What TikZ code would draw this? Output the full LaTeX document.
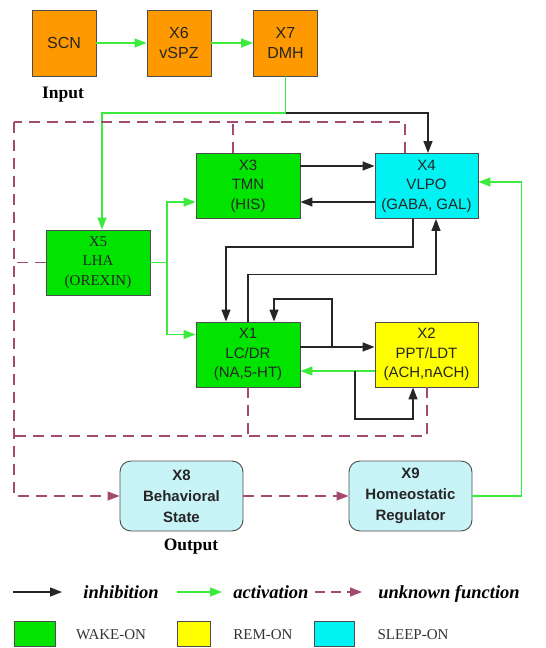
\documentclass[tikz,border=0pt]{standalone}
\usepackage{fontspec}
\setmainfont{Liberation Serif}
\setsansfont{Liberation Sans}
\usetikzlibrary{arrows.meta}

\definecolor{inorange}{HTML}{FF9900}
\definecolor{wakegreen}{HTML}{00E400}
\definecolor{sleepcyan}{HTML}{00F2F2}
\definecolor{remyellow}{HTML}{FFFF00}
\definecolor{statecyan}{HTML}{C8F4F7}
\definecolor{actgreen}{HTML}{3CEB3C}
\definecolor{unkpink}{HTML}{A24A72}

\tikzset{
  box/.style={draw=black!70, line width=0.9pt, minimum width=104pt, minimum height=65pt,
    align=center, inner sep=1pt, text=black!85, font=\sffamily\fontsize{15}{19.5}\selectfont},
  inbox/.style={box, fill=inorange, minimum width=64pt, minimum height=66pt,
    font=\sffamily\fontsize{16}{20}\selectfont},
  wake/.style={box, fill=wakegreen},
  sleep/.style={box, fill=sleepcyan, minimum width=103pt},
  rem/.style={box, fill=remyellow, minimum width=103pt},
  state/.style={box, fill=statecyan, rounded corners=11pt, minimum width=123pt, minimum height=70pt,
    font=\sffamily\bfseries\fontsize{15}{21}\selectfont},
  inh/.style={draw=black!85, line width=1.4pt},
  act/.style={draw=actgreen, line width=1.4pt},
  unk/.style={draw=unkpink, line width=1.3pt, dash pattern=on 11pt off 7pt},
  tag/.style={font=\bfseries\fontsize{17.5}{20}\selectfont},
  key/.style={anchor=base, font=\bfseries\itshape\fontsize{18.5}{20}\selectfont},
  swatch/.style={draw=black!70, line width=0.9pt, minimum width=41pt, minimum height=25pt, inner sep=0pt},
  keytext/.style={anchor=base, font=\fontsize{15}{18}\selectfont, text=black!80},
  >={Triangle[length=12pt,width=9pt]}
}

\begin{document}
\begin{tikzpicture}[x=1pt, y=-1pt]
\useasboundingbox (0,0) rectangle (546,648);

\node[inbox] (SCN) at (64,43) {SCN};
\node[inbox] (X6) at (179,43) {X6\\vSPZ};
\node[inbox] (X7) at (285.5,43) {X7\\DMH};
\node[tag] (in) at (63,95) {Input};

\node[wake] (X3) at (248,186) {X3\\TMN\\(HIS)};
\node[sleep] (X4) at (426.5,186) {X4\\VLPO\\(GABA, GAL)};
\node[wake, font=\fontsize{15}{19.5}\selectfont] (X5) at (98,262.5) {X5\\LHA\\(OREXIN)};
\node[wake] (X1) at (248,354.5) {X1\\LC/DR\\(NA,5-HT)};
\node[rem] (X2) at (426.5,354.5) {X2\\PPT/LDT\\(ACH,nACH)};

\node[state] (X8) at (181.5,496) {X8\\Behavioral\\State};
\node[state] (X9) at (410.5,496) {X9\\Homeostatic\\Regulator};
\node[tag] (out) at (191,547) {Output};

\coordinate (j1) at (285.5,113);
\coordinate (j2) at (167,262.5);
\coordinate (j3) at (332,347);
\coordinate (j4) at (355,371);
\coordinate (dtl) at (14,122);
\coordinate (dbl) at (14,436);

\draw[act,->] (SCN) -- (X6);
\draw[act,->] (X6) -- (X7);
\draw[act] (X7.south) -- (j1);
\draw[act,->] (j1) -| ([xshift=4pt]X5.north);
\draw[inh,->] (j1) -| ([xshift=1.5pt]X4.north);

\draw[act] (X5.east) -- (j2);
\draw[act,->] (j2) |- ([yshift=-16pt]X3.west);
\draw[act,->] (j2) |- ([yshift=20pt]X1.west);

\draw[inh,->] ([yshift=20pt]X3.east) -- ([yshift=20pt]X4.west);
\draw[inh,->] ([yshift=-16pt]X4.west) -- ([yshift=-16pt]X3.east);
\draw[inh,->] ([xshift=-13.5pt]X4.south) -- ++(0,28) -| ([xshift=-22pt]X1.north);
\draw[inh,->] (X1.north) -- ++(0,-47) -| ([xshift=9.5pt]X4.south);

\draw[inh,->] ([yshift=7.5pt]X1.east) -- ([yshift=7.5pt]X2.west);
\draw[inh,->] (j3) -- ++(0,-48) -| ([xshift=26pt]X1.north);
\draw[act,->] ([yshift=-16.5pt]X2.west) -- ([yshift=-16.5pt]X1.east);
\draw[inh,->] (j4) -- ++(0,48) -| ([xshift=-13.5pt]X2.south);

\draw[act,->] (X9.east) -- ++(49,0) |- ([yshift=4pt]X4.east);

\draw[unk] ([xshift=-21.5pt]X4.north) |- (dtl);
\draw[unk] ([xshift=-15pt]X3.north) -- ([xshift=-15pt]X3.north |- dtl);
\draw[unk] (X5.west) -- (X5.west -| dtl);
\draw[unk,->] (dtl) |- (X8.west);
\draw[unk] ([xshift=0.5pt]X2.south) |- (dbl);
\draw[unk] (X1.south) -- (X1.south |- dbl);
\draw[unk,->] (X8.east) -- (X9.west);

\coordinate (k1a) at (13,592);
\coordinate (k1b) at (62,592);
\coordinate (k2a) at (177,592);
\coordinate (k2b) at (222,592);
\coordinate (k3a) at (315,592);
\coordinate (k3b) at (362,592);
\draw[inh,->] (k1a) -- (k1b);
\node[key] (kinh) at (121,598) {inhibition};
\draw[act,->] (k2a) -- (k2b);
\node[key] (kact) at (271,598) {activation};
\draw[unk,dash pattern=on 10pt off 6pt,->] (k3a) -- (k3b);
\node[key] (kunk) at (449,598) {unknown function};

\node[swatch, fill=wakegreen] (swake) at (34.5,633.5) {};
\node[keytext] (twake) at (111,639) {WAKE-ON};
\node[swatch, fill=remyellow, minimum width=33pt] (srem) at (194,633.5) {};
\node[keytext] (trem) at (263,639) {REM-ON};
\node[swatch, fill=sleepcyan, minimum width=40pt] (ssleep) at (334,633.5) {};
\node[keytext] (tsleep) at (413,639) {SLEEP-ON};
\end{tikzpicture}
\end{document}
